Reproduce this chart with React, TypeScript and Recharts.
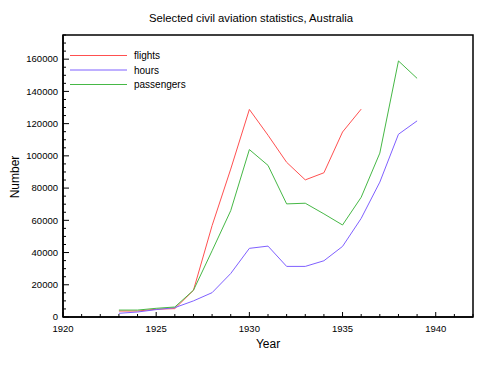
import { LineChart, Line, XAxis, YAxis, ReferenceArea, Legend } from "recharts";

const years = [1923, 1924, 1925, 1926, 1927, 1928, 1929, 1930, 1931, 1932, 1933, 1934, 1935, 1936, 1937, 1938, 1939];
const flights = [3700, 3700, 4800, 5200, 16600, 56700, 91800, 128800, 112800, 96000, 85100, 89500, 114800, 129000, null, null, null];
const hours = [2300, 3100, 4600, 5800, 10000, 15100, 27000, 42600, 44000, 31400, 31400, 34900, 43800, 61200, 83700, 113400, 121700];
const passengers = [4300, 4300, 5400, 6200, 16600, 41100, 66000, 103900, 94100, 70200, 70600, 64000, 57100, 74300, 101700, 158900, 148100];

const xTicks = Array.from({ length: 23 }, (_, i) => 1920 + i);
const yTicks = Array.from({ length: 36 }, (_, i) => i * 5000);

const seriesInfo = [
  { key: "flights", color: "#ff5050" },
  { key: "hours", color: "#7f60ff" },
  { key: "passengers", color: "#46b846" },
];

const rows = years.map((year, i) => ({
  year,
  flights: flights[i],
  hours: hours[i],
  passengers: passengers[i],
}));

const font = "'Liberation Sans', Arial, Helvetica, sans-serif";

const XTick = (props: any) => {
  const { x, y, payload } = props;
  const major = payload.value % 5 === 0;
  return (
    <g>
      <line x1={x} y1={y} x2={x} y2={y - (major ? 5 : 3)} stroke="#000" />
      {major && (
        <text x={x} y={y + 15} textAnchor="middle" fontSize={9.5} fontFamily={font} fill="#000">
          {payload.value}
        </text>
      )}
    </g>
  );
};

const YTick = (props: any) => {
  const { x, y, payload } = props;
  const major = payload.value % 20000 === 0;
  return (
    <g>
      <line x1={x} y1={y} x2={x + (major ? 6 : 3)} y2={y} stroke="#000" />
      {major && (
        <text x={x - 5} y={y} dy="0.35em" textAnchor="end" fontSize={9.5} fontFamily={font} fill="#000">
          {payload.value}
        </text>
      )}
    </g>
  );
};

const LegendBox = () => (
  <svg width={140} height={46}>
    {seriesInfo.map((s, i) => {
      const y = 7.5 + i * 14.5;
      return (
        <g key={s.key}>
          <line x1={0} x2={57} y1={y} y2={y} stroke={s.color} />
          <text x={64} y={y} dy="0.35em" fontSize={10} fontFamily={font} fill="#000">
            {s.key}
          </text>
        </g>
      );
    })}
  </svg>
);

export default function App() {
  return (
    <div style={{ position: "absolute", left: 0, top: 0, width: 480, height: 374, background: "#fff" }}>
      <div
        style={{
          position: "absolute",
          left: 0,
          width: 502,
          top: 12,
          textAlign: "center",
          fontFamily: font,
          fontSize: 11.3,
        }}
      >
        Selected civil aviation statistics, Australia
      </div>
      <LineChart width={480} height={374} data={rows} margin={{ top: 35, right: 7, bottom: 0, left: 8 }}>
        <XAxis
          dataKey="year"
          type="number"
          domain={[1920, 1942]}
          ticks={xTicks}
          interval={0}
          tick={<XTick />}
          tickLine={false}
          tickSize={0}
          tickMargin={0}
          axisLine={{ stroke: "#000", strokeWidth: 1.5 }}
          height={57}
          label={{ value: "Year", position: "insideBottom", offset: 26, fontSize: 12, fontFamily: font, fill: "#000" }}
        />
        <YAxis
          type="number"
          domain={[0, 175000]}
          ticks={yTicks}
          interval={0}
          tick={<YTick />}
          tickLine={false}
          tickSize={0}
          tickMargin={0}
          axisLine={{ stroke: "#000", strokeWidth: 1.5 }}
          width={55}
          label={() => (
            <text
              x={15}
              y={177}
              transform="rotate(-90 15 177)"
              textAnchor="middle"
              dominantBaseline="central"
              fontSize={12}
              fontFamily={font}
              fill="#000"
            >
              Number
            </text>
          )}
        />
        <ReferenceArea x1={1920} x2={1942} y1={0} y2={175000} fill="none" stroke="#000" strokeWidth={1.5} ifOverflow="visible" />
        {seriesInfo.map((s) => (
          <Line
            key={s.key}
            dataKey={s.key}
            stroke={s.color}
            strokeWidth={1}
            dot={false}
            activeDot={false}
            type="linear"
            connectNulls={false}
            isAnimationActive={false}
          />
        ))}
        <Legend
          layout="vertical"
          align="center"
          verticalAlign="middle"
          wrapperStyle={{ left: 70, top: 48, width: 140, height: 46 }}
          content={() => <LegendBox />}
        />
      </LineChart>
    </div>
  );
}
